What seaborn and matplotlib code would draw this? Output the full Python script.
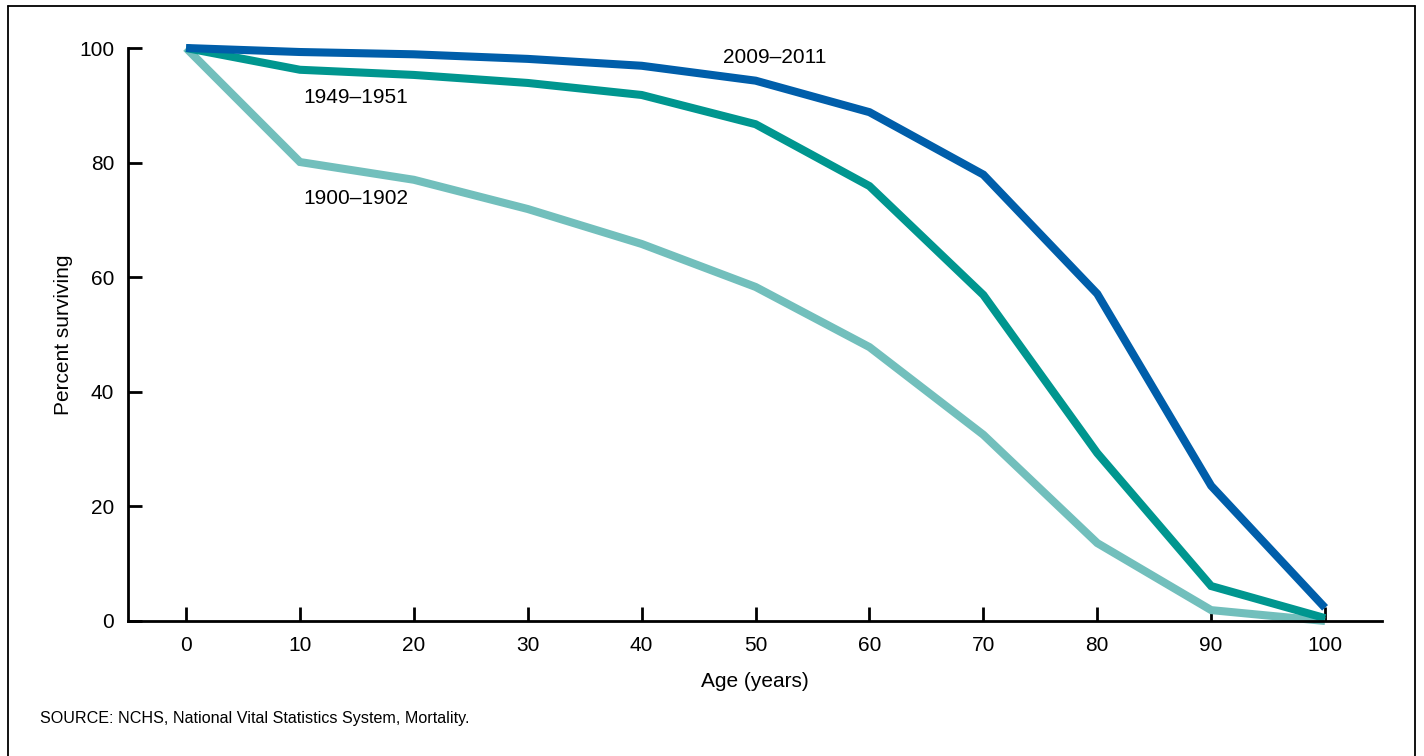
import matplotlib
matplotlib.use("Agg")
import matplotlib.pyplot as plt
import seaborn as sns
import pandas as pd
from matplotlib.lines import Line2D

ages = [0, 10, 20, 30, 40, 50, 60, 70, 80, 90, 100]
s_2009 = [100, 99.3, 98.9, 98.1, 96.9, 94.3, 88.8, 77.9, 57.1, 23.6, 2.3]
s_1949 = [100, 96.2, 95.3, 93.9, 91.8, 86.7, 75.9, 56.9, 29.3, 6.1, 0.5]
s_1900 = [100, 80.1, 77.0, 71.9, 65.8, 58.3, 47.8, 32.5, 13.6, 1.9, 0.0]
periods = ["1900\u20131902", "1949\u20131951", "2009\u20132011"]
colors = ["#72BFBC", "#00968F", "#005EAA"]
x_ticks = [0, 10, 20, 30, 40, 50, 60, 70, 80, 90, 100]
y_ticks = [0, 20, 40, 60, 80, 100]

df = pd.DataFrame({
    "age": ages * 3,
    "pct": s_1900 + s_1949 + s_2009,
    "period": [periods[0]] * len(ages) + [periods[1]] * len(ages) + [periods[2]] * len(ages),
})

sns.set_theme(style="white")
plt.rcParams["font.family"] = ["Liberation Sans", "DejaVu Sans"]

FS = 15

fig = plt.figure(figsize=(14.24, 7.56), dpi=100)
ax = fig.add_axes([128 / 1424, 1 - 621 / 756, (1382 - 128) / 1424, (621 - 48) / 756])

sns.lineplot(data=df, x="age", y="pct", hue="period", hue_order=periods,
             palette=colors, linewidth=5.8, ax=ax, legend=False)
for ln in ax.get_lines():
    ln.set_clip_on(False)
    ln.set_solid_joinstyle("miter")
    ln.set_solid_capstyle("butt")

ax.set_xlim(-5.1, 105)
ax.set_ylim(0, 100)
ax.set_xticks(x_ticks)
ax.set_yticks(y_ticks)
ax.tick_params(axis="both", direction="in", length=10, width=2, color="black",
               labelsize=FS, labelcolor="black", bottom=True, left=True)
ax.tick_params(axis="x", pad=11)
ax.tick_params(axis="y", pad=10)
for side in ["top", "right"]:
    ax.spines[side].set_visible(False)
for side in ["left", "bottom"]:
    ax.spines[side].set_color("black")
    ax.spines[side].set_linewidth(2)
ax.set_xlabel("Age (years)", fontsize=FS, color="black", labelpad=12)
ax.set_ylabel("Percent surviving", fontsize=FS, color="black", labelpad=4)
ax.set_facecolor("white")

ax.text(51.7, 98.3, periods[2], fontsize=FS, ha="center", va="center", color="black")
ax.text(14.9, 91.4, periods[1], fontsize=FS, ha="center", va="center", color="black")
ax.text(14.9, 73.8, periods[0], fontsize=FS, ha="center", va="center", color="black")

fig.text(40 / 1424, 1 - 719 / 756, "SOURCE: NCHS, National Vital Statistics System, Mortality.",
         fontsize=11.6, ha="left", va="center", color="black")

# frame
fx0, fx1 = 7.5 / 1424, 1414.5 / 1424
fy0, fy1 = 1 - 5.5 / 756, -0.01
for xs, ys in [([fx0, fx0], [fy1, fy0]), ([fx0, fx1], [fy0, fy0]), ([fx1, fx1], [fy0, fy1])]:
    fig.add_artist(Line2D(xs, ys, transform=fig.transFigure, color="black", linewidth=1.3))

fig.savefig("out.png", dpi=100, facecolor="white")
